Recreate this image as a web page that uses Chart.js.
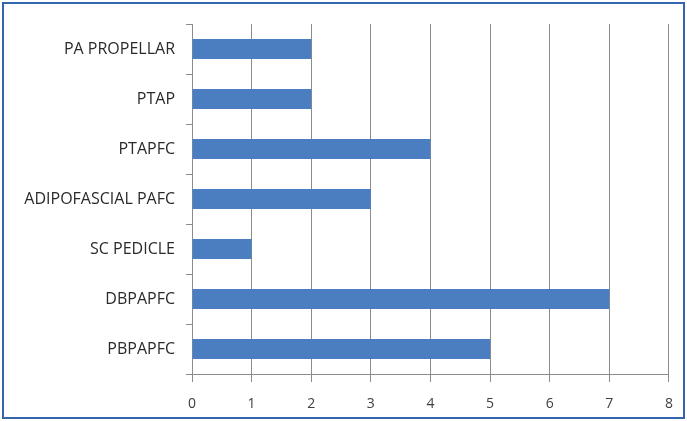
<!DOCTYPE html>
<html>
<head>
<meta charset="utf-8">
<script src="https://cdn.jsdelivr.net/npm/chart.js@4"></script>
<style>
    html, body { margin: 0; padding: 0; background: #fff; }
    #wrap { position: relative; width: 687px; height: 421px; }
    #frame { position: absolute; left: 2px; top: 2px; width: 679px; height: 413px; border: 2px solid #3465AE; pointer-events: none; }
</style>
</head>
<body>
<div id="wrap">
    <canvas id="flapChart" width="687" height="421"></canvas>
    <div id="frame"></div>
</div>
<script>
const categories = ['PA PROPELLAR', 'PTAP', 'PTAPFC', 'ADIPOFASCIAL PAFC', 'SC PEDICLE', 'DBPAPFC', 'PBPAPFC'];
const counts = [2, 2, 4, 3, 1, 7, 5];
const xTicks = [0, 1, 2, 3, 4, 5, 6, 7, 8];

const ctx = document.getElementById('flapChart');

new Chart(ctx, {
    type: 'bar',
    data: {
        labels: categories,
        datasets: [{
            data: counts,
            backgroundColor: '#4A7EC1',
            borderWidth: 0,
            barPercentage: 0.8,
            categoryPercentage: 0.5
        }]
    },
    options: {
        indexAxis: 'y',
        responsive: false,
        animation: false,
        layout: { padding: { top: 24, right: 8, left: 0, bottom: 0 } },
        plugins: {
            legend: { display: false },
            tooltip: { enabled: false }
        },
        scales: {
            x: {
                min: 0,
                max: 8,
                afterBuildTicks: axis => { axis.ticks = xTicks.map(v => ({ value: v })); },
                afterFit: axis => { axis.height = 47; },
                grid: { color: '#8c8c8c', lineWidth: 1, tickLength: 8, drawTicks: true },
                border: { color: '#8c8c8c' },
                ticks: {
                    color: '#404040',
                    font: { family: 'Open Sans', size: 14 },
                    padding: 14
                }
            },
            y: {
                afterFit: axis => { axis.width = 192; },
                grid: { offset: true, drawOnChartArea: false, color: '#8c8c8c', tickLength: 6 },
                border: { color: '#8c8c8c' },
                ticks: {
                    color: '#2a2a2a',
                    font: { family: 'Open Sans', size: 16 },
                    padding: 11
                }
            }
        }
    }
});
</script>
</body>
</html>
